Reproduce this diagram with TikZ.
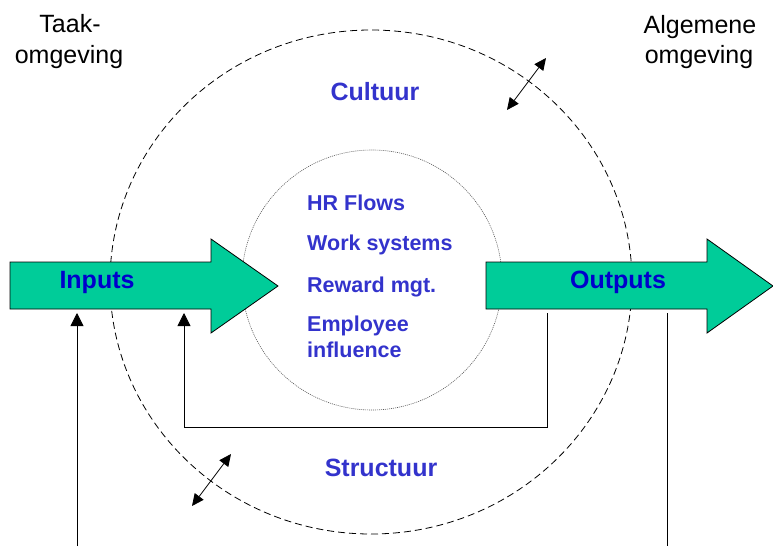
\documentclass[tikz,border=0pt]{standalone}
\usepackage{fontspec}
\setmainfont{Liberation Sans}
\usetikzlibrary{arrows.meta}
\definecolor{flowgreen}{RGB}{0,204,153}
\definecolor{ringblue}{RGB}{51,51,204}
\definecolor{ioblue}{RGB}{0,0,204}
\begin{document}
\begin{tikzpicture}[x=1pt,y=-1pt,
	env/.style={anchor=base, inner sep=0pt, font=\fontsize{25}{30}\selectfont},
	ringlabel/.style={anchor=base, inner sep=0pt, text=ringblue, font=\bfseries\fontsize{25}{30}\selectfont},
	iolabel/.style={anchor=base, inner sep=0pt, text=ioblue, font=\bfseries\fontsize{25}{30}\selectfont},
	hrlabel/.style={anchor=base west, inner sep=0pt, text=ringblue, font=\bfseries\fontsize{21.5}{26}\selectfont},
	flow/.style={draw=black, fill=flowgreen, line width=0.8pt, line join=miter},
	link/.style={line width=0.8pt},
	uptip/.style={-{Triangle[length=13pt,width=13pt]}},
	bothtips/.style={{Triangle[length=12pt,width=11pt]}-{Triangle[length=12pt,width=11pt]}}]
	\useasboundingbox (0,0) rectangle (773,546);
	
	%environment
	\node[env] (taak) at (70,32) {Taak-};
	\node[env] (taakomg) at (69,63) {omgeving};
	\node[env] (alg) at (700,33) {Algemene};
	\node[env] (algomg) at (699,63) {omgeving};
	
	%rings
	\draw[link, dash pattern=on 7pt off 4pt] (371,282) ellipse [x radius=261, y radius=252];
	\draw[line width=0.6pt, gray!70!black, dash pattern=on 1pt off 1pt] (372,280) circle [radius=130];
	\node[ringlabel] (cultuur) at (375,100) {Cultuur};
	\node[ringlabel] (structuur) at (381,476) {Structuur};
	
	%HRM core
	\node[hrlabel] (flows) at (307,210) {HR Flows};
	\node[hrlabel] (work) at (307,250) {Work systems};
	\node[hrlabel] (reward) at (307,292) {Reward mgt.};
	\node[hrlabel] (empl) at (307,331) {Employee};
	\node[hrlabel] (infl) at (307,357) {influence};
	
	%input and output arrows
	\draw[flow] (10,262) -- (211,262) -- (211,239) -- (278,286) -- (211,333) -- (211,309) -- (10,309) -- cycle;
	\draw[flow] (486,262) -- (707,262) -- (707,239) -- (773,286) -- (707,333) -- (707,309) -- (486,309) -- cycle;
	\node[iolabel] (inputs) at (97,288) {Inputs};
	\node[iolabel] (outputs) at (618,288) {Outputs};
	
	%connectors
	\coordinate (envin) at (77,546);
	\coordinate (inleft) at (77,313);
	\coordinate (inright) at (184,313);
	\coordinate (outleft) at (547,313);
	\coordinate (outright) at (667,313);
	\coordinate (envout) at (667,546);
	\draw[link, uptip] (envin) -- (inleft);
	\draw[link, uptip] (outleft) -- ++(0,114) -| (inright);
	\draw[link] (outright) -- (envout);
	
	%exchange with environment
	\coordinate (cultin) at (507,110);
	\coordinate (cultout) at (546,58);
	\coordinate (strucin) at (231,454);
	\coordinate (strucout) at (192,506);
	\draw[link, bothtips] (cultin) -- (cultout);
	\draw[link, bothtips] (strucout) -- (strucin);
\end{tikzpicture}
\end{document}
